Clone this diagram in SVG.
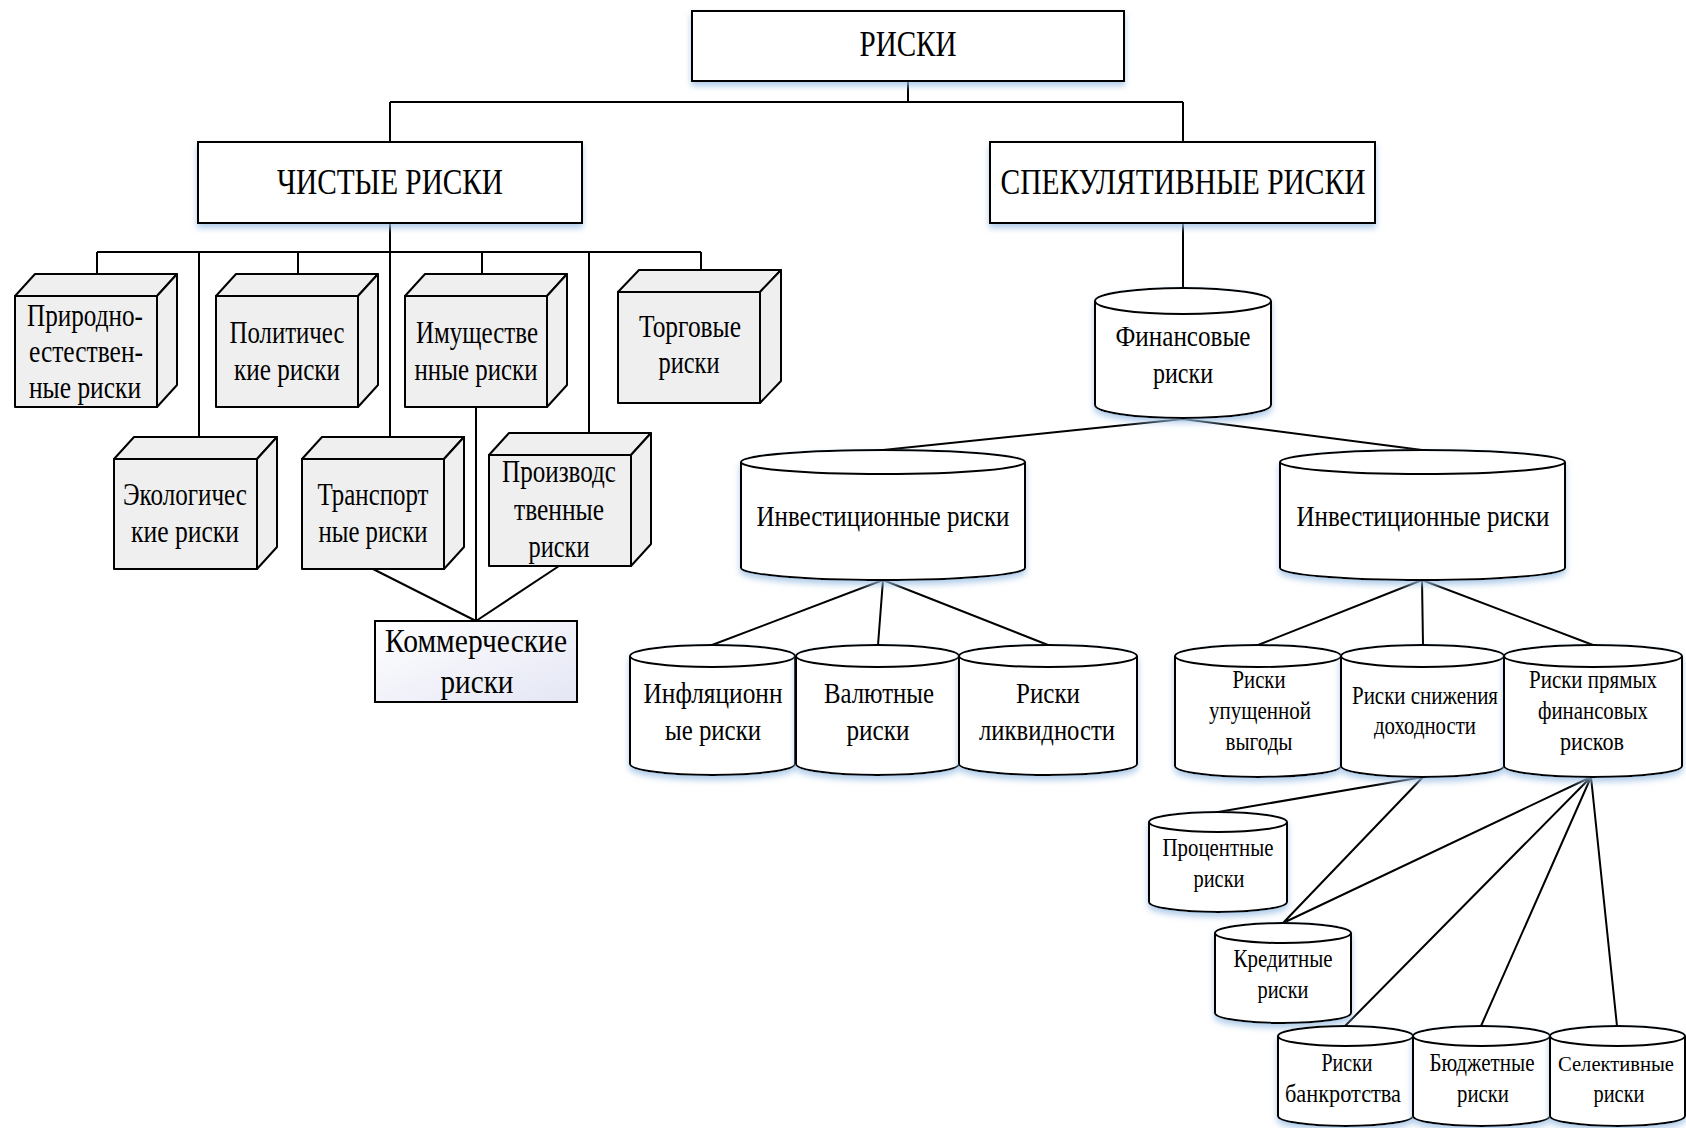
<svg xmlns="http://www.w3.org/2000/svg" width="1686" height="1128" viewBox="0 0 1686 1128">
<style>
  .box{fill:#fff;stroke:#000;stroke-width:2}
  .cube{fill:#efefef;stroke:#000;stroke-width:2;stroke-linejoin:round}
  .cyl{fill:#fff;stroke:#000;stroke-width:2}
  .con{fill:none;stroke:#000;stroke-width:2}
  text{font-family:"Liberation Serif","Times New Roman",serif;fill:#000;text-anchor:middle}
  .t34{font-size:35px}
  .t29{font-size:32px}
  .t33{font-size:34px}
  .t28{font-size:30px}
  .t23{font-size:26px}
  .t24{font-size:25px}
</style>
<defs>
  <filter id="sh" x="-10%" y="-10%" width="120%" height="130%">
    <feDropShadow dx="0" dy="4" stdDeviation="3" flood-color="#9cc0e4" flood-opacity="0.8"/>
  </filter>
  <linearGradient id="kg" x1="0" y1="0" x2="1" y2="1">
    <stop offset="0" stop-color="#ffffff"/>
    <stop offset="1" stop-color="#e4e6f4"/>
  </linearGradient>
</defs>
<rect width="1686" height="1128" fill="#fff"/>

<g id="connectors">
  <path class="con" d="M908 81 V102 M390 102 H1183 M390 102 V142 M1183 102 V142"/>
  <path class="con" d="M390 223 V252 M97 252 H701 M97 252 V274 M199 252 V437 M298 252 V274 M390 252 V437 M482 252 V274 M589 252 V433 M701 252 V270"/>
  <path class="con" d="M476 407 V621 M373 569 L476 621 M559 566 L476 621"/>
  <path class="con" d="M1183 223 V288"/>
  <path class="con" d="M1183 419 L883 450 M1183 419 L1422 450"/>
  <path class="con" d="M883 580 L712 645 M883 580 L878 645 M883 580 L1048 645"/>
  <path class="con" d="M1422 580 L1258 645 M1422 580 L1423 645 M1422 580 L1593 645"/>
  <path class="con" d="M1423 777 L1218 812 M1423 777 L1283 923 M1591 777 L1283 923 M1591 777 L1345 1026 M1591 777 L1481 1026 M1591 777 L1617 1026"/>
</g>

<g id="riski">
  <rect class="box" x="692" y="11" width="432" height="70" filter="url(#sh)"/>
  <text class="t34" x="908" y="56" textLength="97" lengthAdjust="spacingAndGlyphs">РИСКИ</text>
</g>
<g id="chistye">
  <rect class="box" x="198" y="142" width="384" height="81" filter="url(#sh)"/>
  <text class="t34" x="390" y="194" textLength="226" lengthAdjust="spacingAndGlyphs">ЧИСТЫЕ РИСКИ</text>
</g>
<g id="spekul">
  <rect class="box" x="990" y="142" width="385" height="81" filter="url(#sh)"/>
  <text class="t34" x="1183" y="194" textLength="365" lengthAdjust="spacingAndGlyphs">СПЕКУЛЯТИВНЫЕ РИСКИ</text>
</g>

<g id="prirodno">
  <polygon class="cube" points="15,296 157,296 157,407 15,407"/>
  <polygon class="cube" points="15,296 35,274 177,274 157,296"/>
  <polygon class="cube" points="157,296 177,274 177,385 157,407"/>
  <text class="t29" x="85" y="326" textLength="116" lengthAdjust="spacingAndGlyphs">Природно-</text>
  <text class="t29" x="86" y="362" textLength="114" lengthAdjust="spacingAndGlyphs">естествен-</text>
  <text class="t29" x="85" y="398" textLength="112" lengthAdjust="spacingAndGlyphs">ные риски</text>
</g>
<g id="politich">
  <polygon class="cube" points="216,296 358,296 358,407 216,407"/>
  <polygon class="cube" points="216,296 236,274 378,274 358,296"/>
  <polygon class="cube" points="358,296 378,274 378,385 358,407"/>
  <text class="t29" x="287" y="343" textLength="115" lengthAdjust="spacingAndGlyphs">Политичес</text>
  <text class="t29" x="287" y="380" textLength="106" lengthAdjust="spacingAndGlyphs">кие риски</text>
</g>
<g id="imush">
  <polygon class="cube" points="405,296 547,296 547,407 405,407"/>
  <polygon class="cube" points="405,296 425,274 567,274 547,296"/>
  <polygon class="cube" points="547,296 567,274 567,385 547,407"/>
  <text class="t29" x="477" y="343" textLength="122" lengthAdjust="spacingAndGlyphs">Имуществе</text>
  <text class="t29" x="476" y="380" textLength="123" lengthAdjust="spacingAndGlyphs">нные риски</text>
</g>
<g id="torgovye">
  <polygon class="cube" points="618,292 760,292 760,403 618,403"/>
  <polygon class="cube" points="618,292 639,270 781,270 760,292"/>
  <polygon class="cube" points="760,292 781,270 781,381 760,403"/>
  <text class="t29" x="690" y="337" textLength="102" lengthAdjust="spacingAndGlyphs">Торговые</text>
  <text class="t29" x="689" y="373" textLength="61" lengthAdjust="spacingAndGlyphs">риски</text>
</g>
<g id="ekolog">
  <polygon class="cube" points="114,459 257,459 257,569 114,569"/>
  <polygon class="cube" points="114,459 134,437 277,437 257,459"/>
  <polygon class="cube" points="257,459 277,437 277,547 257,569"/>
  <text class="t29" x="185" y="505" textLength="124" lengthAdjust="spacingAndGlyphs">Экологичес</text>
  <text class="t29" x="185" y="542" textLength="108" lengthAdjust="spacingAndGlyphs">кие риски</text>
</g>
<g id="transport">
  <polygon class="cube" points="302,459 444,459 444,569 302,569"/>
  <polygon class="cube" points="302,459 322,437 464,437 444,459"/>
  <polygon class="cube" points="444,459 464,437 464,547 444,569"/>
  <text class="t29" x="373" y="505" textLength="111" lengthAdjust="spacingAndGlyphs">Транспорт</text>
  <text class="t29" x="373" y="542" textLength="109" lengthAdjust="spacingAndGlyphs">ные риски</text>
</g>
<g id="proizv">
  <polygon class="cube" points="489,455 631,455 631,566 489,566"/>
  <polygon class="cube" points="489,455 509,433 651,433 631,455"/>
  <polygon class="cube" points="631,455 651,433 651,544 631,566"/>
  <text class="t29" x="559" y="482" textLength="114" lengthAdjust="spacingAndGlyphs">Производс</text>
  <text class="t29" x="559" y="520" textLength="90" lengthAdjust="spacingAndGlyphs">твенные</text>
  <text class="t29" x="559" y="557" textLength="61" lengthAdjust="spacingAndGlyphs">риски</text>
</g>
<g id="kommerch">
  <rect x="375" y="621" width="202" height="81" fill="url(#kg)" stroke="#000" stroke-width="2"/>
  <text class="t33" x="476" y="652" textLength="182" lengthAdjust="spacingAndGlyphs">Коммерческие</text>
  <text class="t33" x="477" y="693" textLength="73" lengthAdjust="spacingAndGlyphs">риски</text>
</g>

<g id="finans">
  <path class="cyl" filter="url(#sh)" d="M1095 301 A88 13 0 0 1 1271 301 V405 A88 13 0 0 1 1095 405 Z"/>
  <path class="con" d="M1095 301 A88 13 0 0 0 1271 301"/>
  <text class="t28" x="1183" y="346" textLength="135" lengthAdjust="spacingAndGlyphs">Финансовые</text>
  <text class="t28" x="1183" y="383" textLength="60" lengthAdjust="spacingAndGlyphs">риски</text>
</g>
<g id="invest1">
  <path class="cyl" filter="url(#sh)" d="M741 462 A142 12 0 0 1 1025 462 V568 A142 12 0 0 1 741 568 Z"/>
  <path class="con" d="M741 462 A142 12 0 0 0 1025 462"/>
  <text class="t28" x="883" y="526" textLength="253" lengthAdjust="spacingAndGlyphs">Инвестиционные риски</text>
</g>
<g id="invest2">
  <path class="cyl" filter="url(#sh)" d="M1280 462 A142.5 12 0 0 1 1565 462 V568 A142.5 12 0 0 1 1280 568 Z"/>
  <path class="con" d="M1280 462 A142.5 12 0 0 0 1565 462"/>
  <text class="t28" x="1423" y="526" textLength="253" lengthAdjust="spacingAndGlyphs">Инвестиционные риски</text>
</g>

<g id="inflyac">
  <path class="cyl" filter="url(#sh)" d="M630 656 A82.5 11 0 0 1 795 656 V764 A82.5 11 0 0 1 630 764 Z"/>
  <path class="con" d="M630 656 A82.5 11 0 0 0 795 656"/>
  <text class="t28" x="713" y="703" textLength="139" lengthAdjust="spacingAndGlyphs">Инфляционн</text>
  <text class="t28" x="713" y="740" textLength="96" lengthAdjust="spacingAndGlyphs">ые риски</text>
</g>
<g id="valyut">
  <path class="cyl" filter="url(#sh)" d="M796 656 A81.5 11 0 0 1 959 656 V764 A81.5 11 0 0 1 796 764 Z"/>
  <path class="con" d="M796 656 A81.5 11 0 0 0 959 656"/>
  <text class="t28" x="879" y="703" textLength="110" lengthAdjust="spacingAndGlyphs">Валютные</text>
  <text class="t28" x="878" y="740" textLength="63" lengthAdjust="spacingAndGlyphs">риски</text>
</g>
<g id="likvid">
  <path class="cyl" filter="url(#sh)" d="M959 656 A89 11 0 0 1 1137 656 V764 A89 11 0 0 1 959 764 Z"/>
  <path class="con" d="M959 656 A89 11 0 0 0 1137 656"/>
  <text class="t28" x="1048" y="703" textLength="64" lengthAdjust="spacingAndGlyphs">Риски</text>
  <text class="t28" x="1047" y="740" textLength="136" lengthAdjust="spacingAndGlyphs">ликвидности</text>
</g>

<g id="upush">
  <path class="cyl" filter="url(#sh)" d="M1175 656 A83 11 0 0 1 1341 656 V766 A83 11 0 0 1 1175 766 Z"/>
  <path class="con" d="M1175 656 A83 11 0 0 0 1341 656"/>
  <text class="t24" x="1259" y="688" textLength="53" lengthAdjust="spacingAndGlyphs">Риски</text>
  <text class="t24" x="1260" y="719" textLength="102" lengthAdjust="spacingAndGlyphs">упущенной</text>
  <text class="t24" x="1259" y="750" textLength="67" lengthAdjust="spacingAndGlyphs">выгоды</text>
</g>
<g id="snizh">
  <path class="cyl" filter="url(#sh)" d="M1341 656 A81.5 11 0 0 1 1504 656 V766 A81.5 11 0 0 1 1341 766 Z"/>
  <path class="con" d="M1341 656 A81.5 11 0 0 0 1504 656"/>
  <text class="t24" x="1425" y="704" textLength="146" lengthAdjust="spacingAndGlyphs">Риски снижения</text>
  <text class="t24" x="1425" y="734" textLength="102" lengthAdjust="spacingAndGlyphs">доходности</text>
</g>
<g id="pryam">
  <path class="cyl" filter="url(#sh)" d="M1504 656 A89 11 0 0 1 1682 656 V766 A89 11 0 0 1 1504 766 Z"/>
  <path class="con" d="M1504 656 A89 11 0 0 0 1682 656"/>
  <text class="t24" x="1593" y="688" textLength="128" lengthAdjust="spacingAndGlyphs">Риски прямых</text>
  <text class="t24" x="1593" y="719" textLength="110" lengthAdjust="spacingAndGlyphs">финансовых</text>
  <text class="t24" x="1592" y="750" textLength="64" lengthAdjust="spacingAndGlyphs">рисков</text>
</g>

<g id="procent">
  <path class="cyl" filter="url(#sh)" d="M1149 822 A69 10 0 0 1 1287 822 V902 A69 10 0 0 1 1149 902 Z"/>
  <path class="con" d="M1149 822 A69 10 0 0 0 1287 822"/>
  <text class="t23" x="1218" y="856" textLength="111" lengthAdjust="spacingAndGlyphs">Процентные</text>
  <text class="t23" x="1219" y="887" textLength="51" lengthAdjust="spacingAndGlyphs">риски</text>
</g>
<g id="kredit">
  <path class="cyl" filter="url(#sh)" d="M1215 933 A68 10 0 0 1 1351 933 V1013 A68 10 0 0 1 1215 1013 Z"/>
  <path class="con" d="M1215 933 A68 10 0 0 0 1351 933"/>
  <text class="t23" x="1283" y="967" textLength="99" lengthAdjust="spacingAndGlyphs">Кредитные</text>
  <text class="t23" x="1283" y="998" textLength="51" lengthAdjust="spacingAndGlyphs">риски</text>
</g>
<g id="bankrot">
  <path class="cyl" filter="url(#sh)" d="M1278 1036 A67.5 10 0 0 1 1413 1036 V1116 A67.5 10 0 0 1 1278 1116 Z"/>
  <path class="con" d="M1278 1036 A67.5 10 0 0 0 1413 1036"/>
  <text class="t23" x="1347" y="1071" textLength="51" lengthAdjust="spacingAndGlyphs">Риски</text>
  <text class="t23" x="1343" y="1102" textLength="116" lengthAdjust="spacingAndGlyphs">банкротства</text>
</g>
<g id="byudzh">
  <path class="cyl" filter="url(#sh)" d="M1413 1036 A68.5 10 0 0 1 1550 1036 V1116 A68.5 10 0 0 1 1413 1116 Z"/>
  <path class="con" d="M1413 1036 A68.5 10 0 0 0 1550 1036"/>
  <text class="t23" x="1482" y="1071" textLength="105" lengthAdjust="spacingAndGlyphs">Бюджетные</text>
  <text class="t23" x="1483" y="1102" textLength="52" lengthAdjust="spacingAndGlyphs">риски</text>
</g>
<g id="selekt">
  <path class="cyl" filter="url(#sh)" d="M1550 1036 A67.5 10 0 0 1 1685 1036 V1116 A67.5 10 0 0 1 1550 1116 Z"/>
  <path class="con" d="M1550 1036 A67.5 10 0 0 0 1685 1036"/>
  <text x="1616" y="1071" font-size="22" textLength="116" lengthAdjust="spacingAndGlyphs">Селективные</text>
  <text class="t23" x="1619" y="1102" textLength="51" lengthAdjust="spacingAndGlyphs">риски</text>
</g>
</svg>
